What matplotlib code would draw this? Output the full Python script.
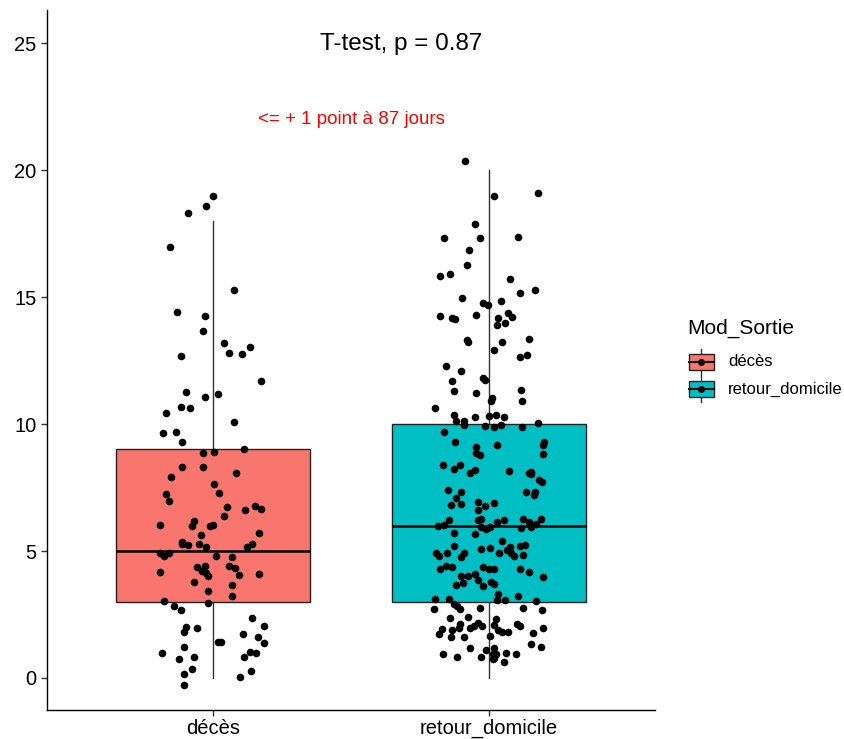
import numpy as np
import matplotlib
matplotlib.use("Agg")
import matplotlib.pyplot as plt
from matplotlib.patches import Rectangle

plt.rcParams['font.family'] = ['Liberation Sans', 'DejaVu Sans']

groups = ["décès", "retour_domicile"]
colors = ["#F8766D", "#00BFC4"]
q1 = [3, 3]
med = [5, 6]
q3 = [9, 10]
whislo = [0, 0]
whishi = [18, 20]

title_txt = "T-test, p = 0.87"
note_txt = "<= + 1 point à 87 jours"

# jittered points (y value, horizontal jitter)
deces_y = [18.99, 18.6, 18.3, 16.98, 15.28, 14.4, 14.25, 13.66, 13.18, 13.03, 12.78, 12.74, 12.69,
           11.69, 11.26, 11.06, 11.17, 10.67, 10.62, 10.43, 10.08, 9.65, 9.70, 9.30, 8.87, 8.91,
           9.0, 8.32, 8.32, 8.07, 7.93, 7.64, 7.30, 7.24, 6.96, 6.72, 6.60, 6.76, 6.65, 6.38,
           6.02, 6.17, 6.0, 6.0, 6.04, 5.72, 5.63, 5.37, 5.28, 5.24, 5.29, 5.15, 5.15, 5.28,
           4.91, 4.80, 4.92, 4.80, 4.75, 4.37, 4.42, 4.21, 4.12, 4.02, 4.41, 4.34, 4.07, 4.16,
           4.11, 3.77, 3.67, 3.43, 3.23, 3.04, 2.83, 2.69, 2.94, 2.35, 2.05, 2.01, 1.96, 1.80,
           1.72, 1.61, 1.37, 1.42, 1.42, 1.22, 0.97, 0.84, 0.74, 0.84, 1.02, 0.97, 0.34, 0.16,
           0.29, 0.05, -0.29]
deces_jit = [0.0, -0.025, -0.088, -0.155, 0.075, -0.13, -0.03, -0.035, 0.041, 0.133, 0.06, 0.104, -0.116,
             0.176, -0.097, -0.03, 0.018, -0.116, -0.082, -0.168, 0.075, -0.179, -0.135, -0.111, -0.035, 0.004,
             0.113, -0.111, -0.035, 0.085, -0.15, 0.004, 0.023, -0.168, -0.159, 0.051, 0.118, 0.151, 0.176, 0.041,
             -0.192, -0.068, -0.074, -0.011, 0.001, 0.168, -0.043, -0.112, -0.11, -0.088, -0.05, -0.025, 0.122, 0.142,
             -0.192, -0.178, -0.159, 0.013, 0.071, -0.059, -0.029, -0.039, -0.025, -0.019, 0.057, 0.08, 0.095, -0.192,
             0.168, -0.068, 0.071, -0.016, 0.071, -0.178, -0.14, -0.116, -0.016, 0.142, 0.186, -0.098, -0.058, -0.105,
             0.109, 0.162, 0.186, 0.017, 0.028, -0.105, -0.184, -0.068, -0.121, 0.113, 0.133, 0.157, -0.077, -0.105,
             0.138, 0.099, -0.106]

retour_y = [20.35, 18.99, 19.09, 17.86, 17.32, 17.32, 17.37, 16.84, 16.25, 15.81, 15.91, 15.71, 15.17,
            15.28, 14.95, 14.86, 14.75, 14.70, 14.25, 14.19, 14.15, 14.29, 14.16, 14.36, 14.20, 13.90,
            13.96, 13.31, 13.22, 13.22, 13.36, 12.91, 12.63, 12.73, 12.28, 12.09, 11.69, 11.80, 11.73,
            11.31, 11.21, 11.35, 11.01, 10.89, 10.92, 10.62, 10.37, 10.13, 10.13, 10.28, 10.33, 10.37,
            10.28, 10.04, 9.96, 9.93, 9.87, 9.96, 9.88, 9.69, 9.30, 9.11, 9.16, 9.30, 9.19, 8.87, 8.77,
            8.81, 8.37, 8.22, 8.37, 8.07, 8.18, 8.16, 8.08, 8.12, 8.02, 7.78, 7.73, 7.39, 7.31, 7.10,
            7.32, 7.31, 7.19, 6.80, 6.85, 6.92, 6.77, 6.90, 6.61, 6.22, 6.22, 6.27, 6.14, 6.22, 6.27,
            6.15, 6.27, 5.97, 6.02, 5.94, 5.85, 5.94, 5.89, 5.96, 6.06, 5.72, 5.68, 5.38, 5.20, 5.08,
            5.11, 5.16, 5.20, 5.24, 4.91, 4.82, 4.91, 4.78, 4.91, 4.93, 4.91, 4.82, 4.84, 5.04, 4.30,
            4.41, 4.36, 4.36, 4.30, 4.30, 4.30, 4.16, 3.96, 4.03, 4.03, 4.08, 3.86, 3.73, 3.66, 3.63,
            3.77, 3.71, 3.30, 3.07, 3.07, 3.23, 3.03, 3.12, 3.12, 2.90, 2.83, 2.72, 2.70, 2.74, 2.74,
            2.69, 2.35, 2.40, 2.31, 2.11, 2.15, 2.06, 1.96, 2.04, 2.10, 2.11, 2.06, 1.92, 1.89, 1.96,
            1.88, 1.82, 1.82, 1.96, 1.72, 1.63, 1.61, 1.65, 1.76, 1.33, 1.22, 1.17, 1.09, 1.19, 0.93,
            0.84, 0.84, 0.93, 0.93, 0.97, 0.93, 0.75, 0.80, 0.63]
retour_jit = [-0.086, 0.018, 0.176, -0.053, -0.163, -0.035, 0.104, -0.074, -0.082, -0.178, -0.14, 0.076, 0.11,
              0.167, -0.097, 0.042, -0.024, -0.006, -0.178, -0.135, -0.124, -0.048, 0.033, 0.069, 0.081, 0.028,
              0.057, -0.079, -0.076, 0.047, 0.144, 0.018, 0.11, 0.138, -0.158, -0.101, -0.135, -0.021, -0.016,
              -0.129, -0.048, 0.115, 0.012, 0.007, 0.12, -0.197, -0.129, -0.12, -0.091, -0.053, -0.001, 0.023,
              0.052, 0.176, -0.091, -0.014, 0.018, 0.042, 0.12, -0.163, -0.124, -0.048, 0.028, 0.199, 0.196, -0.048, -0.035,
              0.196, -0.168, -0.129, -0.105, -0.068, -0.053, 0.071, 0.144, 0.153, 0.153, 0.182, 0.19, -0.149, -0.101, -0.12,
              0.134, 0.167, 0.162, -0.139, -0.101, -0.039, -0.014, 0.018, -0.039, -0.144, -0.039, -0.029, 0.028, 0.052, 0.124,
              0.144, 0.186, -0.187, -0.163, -0.029, -0.011, 0.004, 0.115, 0.153, 0.168, -0.129, -0.053, 0.047, -0.129, -0.029,
              0.004, 0.076, 0.11, 0.13, -0.194, -0.182, -0.153, -0.103, -0.091, 0.037, 0.079, 0.088, 0.124, 0.064, -0.178,
              -0.158, -0.135, -0.024, -0.001, 0.018, 0.11, 0.144, 0.196, -0.103, -0.076, -0.05, -0.04, -0.095, -0.12, -0.024,
              0.008, 0.018, 0.033, 0.028, 0.057, 0.105, 0.171, -0.197, -0.144, -0.129, -0.115, -0.105, -0.201, -0.035, 0.124,
              0.191, -0.141, -0.076, 0.023, -0.105, -0.04, -0.025, -0.069, -0.054, 0.018, 0.1, 0.11, -0.172, -0.134, -0.11,
              0.033, 0.047, 0.067, 0.196, -0.182, -0.139, -0.091, 0.004, 0.158, 0.153, 0.186, -0.068, -0.013, 0.018, -0.167,
              -0.115, -0.029, 0.013, 0.023, 0.062, 0.096, 0.013, 0.018, 0.052]

W, H = 845, 739
fig = plt.figure(figsize=(W / 100, H / 100), dpi=100)
ax = fig.add_axes([47 / W, 1 - 710 / H, (655 - 47) / W, (710 - 10) / H])

stats = [dict(q1=q1[i], med=med[i], q3=q3[i], whislo=whislo[i], whishi=whishi[i], label=groups[i])
         for i in range(len(groups))]
bp = ax.bxp(stats, positions=[1, 2], widths=0.7, patch_artist=True, showfliers=False, showcaps=False,
            boxprops=dict(edgecolor="#222222", linewidth=1.0),
            medianprops=dict(color="black", linewidth=1.8),
            whiskerprops=dict(color="#333333", linewidth=1.0))
for patch, c in zip(bp["boxes"], colors):
    patch.set_facecolor(c)

ax.scatter(1 + np.array(deces_jit), deces_y, s=30, color="black", zorder=5, linewidths=0)
ax.scatter(2 + np.array(retour_jit), retour_y, s=30, color="black", zorder=5, linewidths=0)

ax.text(1.68, 24.96, title_txt, ha="center", va="center", fontsize=17.5, color="black")
ax.text(1.5, 21.97, note_txt, ha="center", va="center", fontsize=13.5, color="red")

ax.set_xlim(0.4, 2.6)
ax.set_ylim(-1.26, 26.3)
ax.set_yticks([0, 5, 10, 15, 20, 25])
ax.set_xticks([1, 2])
ax.set_xticklabels(groups)
ax.spines["top"].set_visible(False)
ax.spines["right"].set_visible(False)
for s in ["left", "bottom"]:
    ax.spines[s].set_linewidth(1.0)
    ax.spines[s].set_color("black")
ax.tick_params(length=4, width=1, color="#333333", labelsize=14.5, labelcolor="black")
ax.tick_params(axis="x", pad=2.5)
ax.set_facecolor("white")

# legend drawn in pixel coordinates
lg = fig.add_axes([0, 0, 1, 1])
lg.set_xlim(0, W)
lg.set_ylim(H, 0)
lg.axis("off")
lg.text(687, 328, "Mod_Sortie", fontsize=15, ha="left", va="center")
for i, (lab, c) in enumerate(zip(groups, colors)):
    yc = 362 + i * 27
    lg.plot([701.5, 701.5], [yc - 13, yc + 13], color="#333333", lw=1.0)
    lg.add_patch(Rectangle((689, yc - 8), 25, 16, facecolor=c, edgecolor="#222222", lw=1.0, zorder=3))
    lg.plot([689, 714], [yc, yc], color="black", lw=1.5, zorder=4)
    lg.scatter([701.5], [yc], s=25, color="black", zorder=5, linewidths=0)
    lg.text(728, yc, lab, fontsize=12, ha="left", va="center")

fig.savefig("out.png", dpi=100)
